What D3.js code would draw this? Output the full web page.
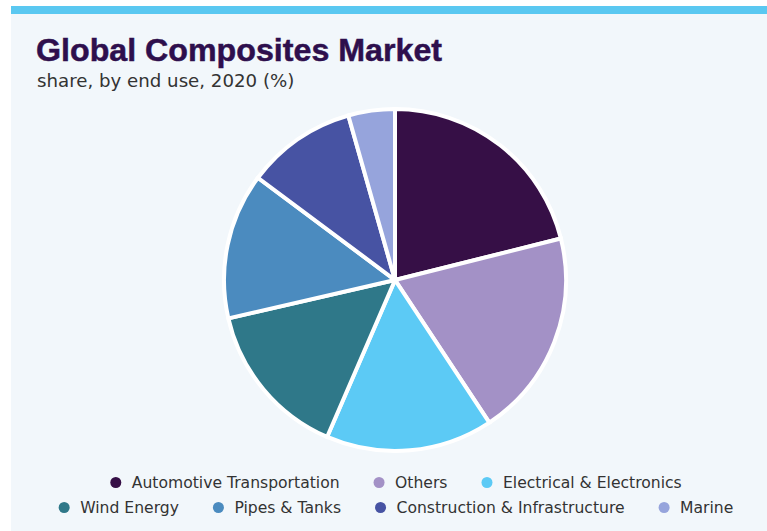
<!DOCTYPE html>
<html>
<head>
<meta charset="utf-8">
<script src="https://cdn.jsdelivr.net/npm/d3@7"></script>
<style>
  html, body { margin: 0; padding: 0; background: #ffffff; }
  svg { display: block; }
</style>
</head>
<body>
<svg id="chart" width="767" height="531"></svg>
<script>
// Market share by end use, 2020 (%)
const categories = [
  "Automotive Transportation",
  "Others",
  "Electrical & Electronics",
  "Wind Energy",
  "Pipes & Tanks",
  "Construction & Infrastructure",
  "Marine"
];
const shares = [21.1, 19.6, 15.8, 14.9, 13.8, 10.4, 4.4];
const colors = ["#360f46", "#a391c6", "#5ccaf5", "#2f7889", "#4b8bbf", "#4753a3", "#96a4dc"];
const legendRows = [
  ["Automotive Transportation", "Others", "Electrical & Electronics"],
  ["Wind Energy", "Pipes & Tanks", "Construction & Infrastructure", "Marine"]
];

const W = 767, H = 531;
const svg = d3.select("#chart");

// card background and accent strip
svg.append("rect").attr("x", 11).attr("y", 6).attr("width", W - 11).attr("height", H - 6)
  .attr("fill", "#f2f7fb");
svg.append("rect").attr("x", 11).attr("y", 6).attr("width", W - 11).attr("height", 8)
  .attr("fill", "#5ac8f1");

// heading
svg.append("text")
  .attr("x", 36).attr("y", 60.5)
  .attr("font-family", "'Liberation Sans', Arial, sans-serif")
  .attr("font-weight", 700)
  .attr("font-size", 32.2)
  .attr("fill", "#2e0f4d")
  .attr("stroke", "#2e0f4d")
  .attr("stroke-width", 0.5)
  .text("Global Composites Market");
svg.append("text")
  .attr("x", 37).attr("y", 86.5)
  .attr("font-family", "'DejaVu Sans', sans-serif")
  .attr("font-size", 18.2)
  .attr("fill", "#333333")
  .text("share, by end use, 2020 (%)");

// pie
const cx = 395, cy = 280, radius = 171;
const color = d3.scaleOrdinal().domain(categories).range(colors);
const pie = d3.pie().sort(null).value(d => d.value);
const arc = d3.arc().innerRadius(0).outerRadius(radius);
const data = categories.map((c, i) => ({ name: c, value: shares[i] }));

svg.append("g")
  .attr("transform", `translate(${cx},${cy})`)
  .selectAll("path")
  .data(pie(data))
  .join("path")
  .attr("d", arc)
  .attr("fill", d => color(d.data.name))
  .attr("stroke", "#ffffff")
  .attr("stroke-width", 4)
  .attr("stroke-linejoin", "miter");

// legend, each row centred under the pie
const legendFont = "'DejaVu Sans', sans-serif";
const legendSize = 15.6;
const dotR = 5.5, dotGap = 10.5, itemGap = 34;
const rowY = [482.5, 507.5];

legendRows.forEach((row, ri) => {
  const g = svg.append("g");
  let x = 0;
  row.forEach(name => {
    const item = g.append("g").attr("transform", `translate(${x},0)`);
    item.append("circle").attr("cx", dotR).attr("cy", rowY[ri]).attr("r", dotR)
      .attr("fill", color(name));
    const t = item.append("text")
      .attr("x", dotR * 2 + dotGap).attr("y", rowY[ri] + 5.4)
      .attr("font-family", legendFont)
      .attr("font-size", legendSize)
      .attr("fill", "#333333")
      .text(name);
    x += dotR * 2 + dotGap + t.node().getComputedTextLength() + itemGap;
  });
  const total = x - itemGap;
  g.attr("transform", `translate(${396 - total / 2},0)`);
});
</script>
</body>
</html>
